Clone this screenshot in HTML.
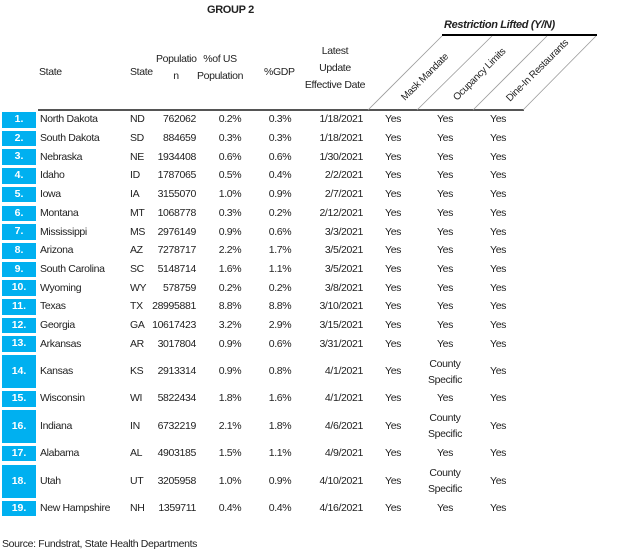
<!DOCTYPE html>
<html><head><style>
body{margin:0;width:624px;height:555px;background:#fff;position:relative;font-family:"Liberation Sans",Arial,sans-serif;font-size:10.5px;color:#222;overflow:hidden}
.a{position:absolute;white-space:nowrap;letter-spacing:-0.35px}
.b{position:absolute;left:2px;width:34px;background:#00b0f0;color:#fff;font-weight:bold;text-align:center}
.c{text-align:center}
.r{text-align:right}
</style></head><body>
<div class="a" style="left:207px;top:4px;font-weight:bold;font-size:11px">GROUP 2</div>
<div class="a" style="left:444px;top:19px;font-weight:bold;font-style:italic;font-size:11px">Restriction Lifted (Y/N)</div>
<svg class="a" style="left:0;top:0" width="624" height="555">
<line x1="442" y1="35" x2="597" y2="35" stroke="#000" stroke-width="2"/>
<line x1="38" y1="110" x2="524" y2="110" stroke="#555" stroke-width="2"/>
<g stroke="#999" stroke-width="0.8">
<line x1="368" y1="110" x2="442" y2="36"/>
<line x1="417" y1="110" x2="492" y2="36"/>
<line x1="473" y1="110" x2="547" y2="36"/>
<line x1="523" y1="110" x2="596" y2="36"/>
</g>
<g font-family="Liberation Sans, Arial, sans-serif" font-size="10" fill="#222" letter-spacing="-0.3">
<text transform="translate(405,101) rotate(-45)">Mask Mandate</text>
<text transform="translate(457,101) rotate(-45)">Ocupancy Limits</text>
<text transform="translate(510,102) rotate(-45)">Dine-In Restaurants</text>
</g>
</svg>
<div class="a" style="left:39px;top:66px">State</div>
<div class="a" style="left:130px;top:66px">State</div>
<div class="a c" style="left:156px;top:51px;width:40px;line-height:17px">Populatio<br>n</div>
<div class="a c" style="left:194px;top:51px;width:52px;line-height:17px">%of US<br>Population</div>
<div class="a" style="left:264px;top:66px">%GDP</div>
<div class="a c" style="left:300px;top:43px;width:70px;line-height:17px">Latest<br>Update<br>Effective Date</div>
<div id="rows"></div>
<div class="a" style="left:2px;top:538px">Source: Fundstrat, State Health Departments</div>
<script>
var d=[["North Dakota","ND","762062","0.2%","0.3%","1/18/2021",0],
["South Dakota","SD","884659","0.3%","0.3%","1/18/2021",0],
["Nebraska","NE","1934408","0.6%","0.6%","1/30/2021",0],
["Idaho","ID","1787065","0.5%","0.4%","2/2/2021",0],
["Iowa","IA","3155070","1.0%","0.9%","2/7/2021",0],
["Montana","MT","1068778","0.3%","0.2%","2/12/2021",0],
["Mississippi","MS","2976149","0.9%","0.6%","3/3/2021",0],
["Arizona","AZ","7278717","2.2%","1.7%","3/5/2021",0],
["South Carolina","SC","5148714","1.6%","1.1%","3/5/2021",0],
["Wyoming","WY","578759","0.2%","0.2%","3/8/2021",0],
["Texas","TX","28995881","8.8%","8.8%","3/10/2021",0],
["Georgia","GA","10617423","3.2%","2.9%","3/15/2021",0],
["Arkansas","AR","3017804","0.9%","0.6%","3/31/2021",0],
["Kansas","KS","2913314","0.9%","0.8%","4/1/2021",1],
["Wisconsin","WI","5822434","1.8%","1.6%","4/1/2021",0],
["Indiana","IN","6732219","2.1%","1.8%","4/6/2021",1],
["Alabama","AL","4903185","1.5%","1.1%","4/9/2021",0],
["Utah","UT","3205958","1.0%","0.9%","4/10/2021",1],
["New Hampshire","NH","1359711","0.4%","0.4%","4/16/2021",0]];
var h="",y=110.5;
d.forEach(function(r,i){var H=r[6]?36:18.7;var c=y+H/2-6.5;
h+='<div class="b" style="top:'+(y+1.5)+'px;height:'+(H-3)+'px;line-height:'+(H-3)+'px">'+(i+1)+'.</div>';
h+='<div class="a" style="left:40px;top:'+c+'px">'+r[0]+'</div>';
h+='<div class="a" style="left:130px;top:'+c+'px">'+r[1]+'</div>';
h+='<div class="a r" style="left:146px;width:50px;top:'+c+'px">'+r[2]+'</div>';
h+='<div class="a c" style="left:210px;width:40px;top:'+c+'px">'+r[3]+'</div>';
h+='<div class="a c" style="left:260px;width:40px;top:'+c+'px">'+r[4]+'</div>';
h+='<div class="a r" style="left:298px;width:65px;top:'+c+'px">'+r[5]+'</div>';
h+='<div class="a" style="left:385px;top:'+c+'px">Yes</div>';
if(r[6])h+='<div class="a c" style="left:421px;width:48px;top:'+(y+2)+'px;line-height:16px">County<br>Specific</div>';
else h+='<div class="a c" style="left:425px;width:40px;top:'+c+'px">Yes</div>';
h+='<div class="a" style="left:490px;top:'+c+'px">Yes</div>';
y+=H;});
document.getElementById("rows").innerHTML=h;
</script>
</body></html>
